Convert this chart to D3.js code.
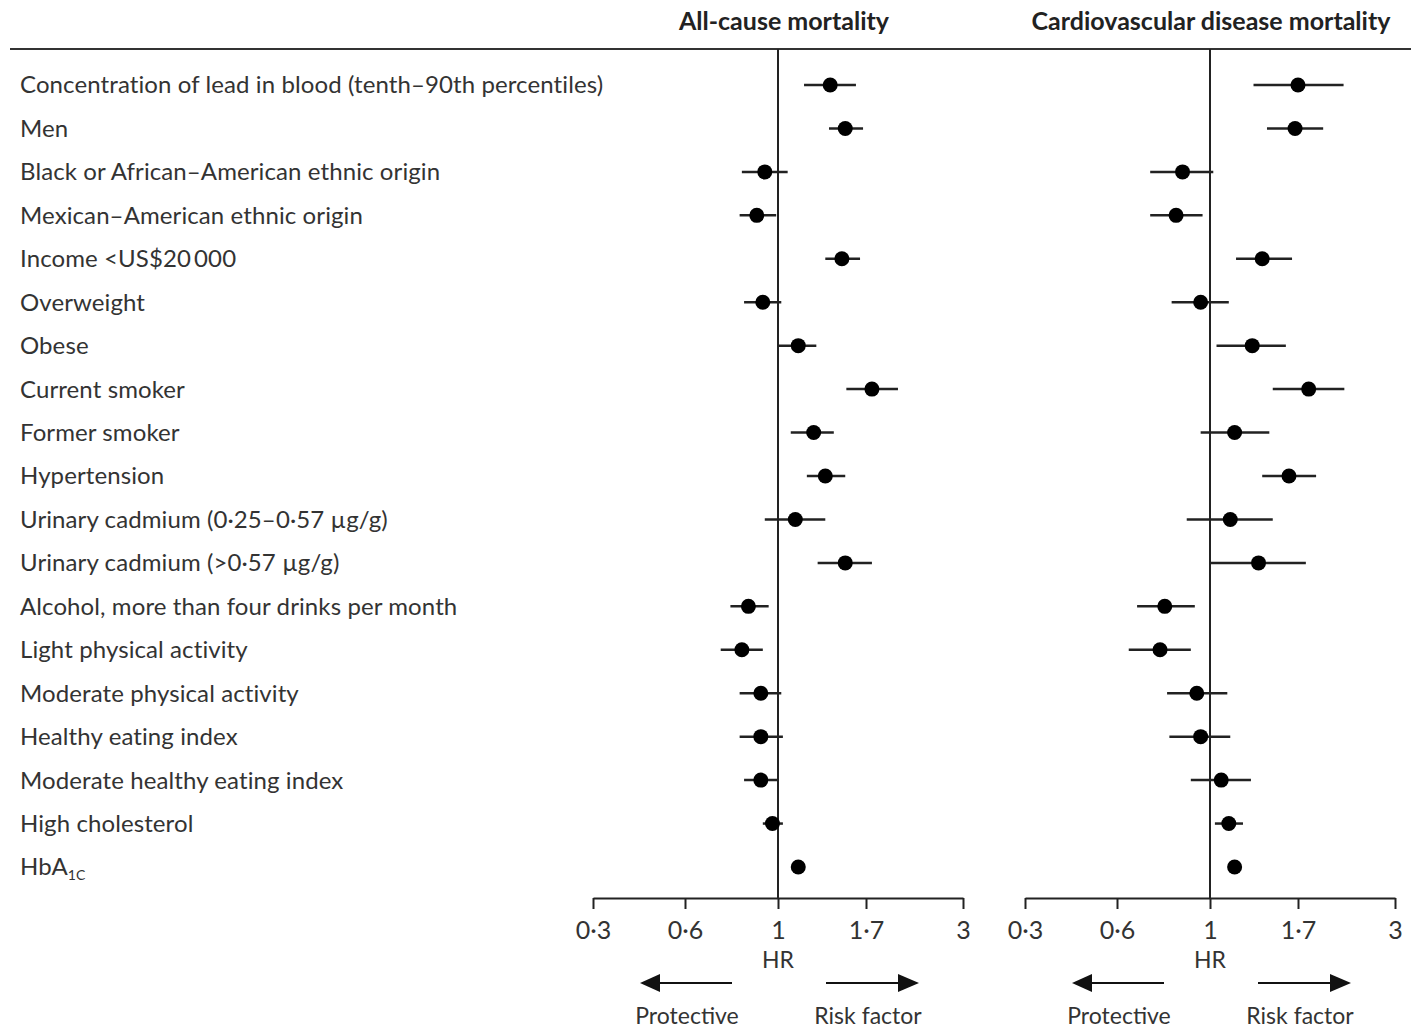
<!DOCTYPE html>
<meta charset="utf-8">
<script src="https://d3js.org/d3.v7.min.js"></script>
<style>
  body { margin: 0; background: #fff; }
  text { font-family: Lato, "Open Sans", sans-serif; fill: #333; }
</style>
<div id="chart"></div>
<script>
// row labels (top to bottom)
const factors = [
  "Concentration of lead in blood (tenth\u201390th percentiles)",
  "Men",
  "Black or African\u2013American ethnic origin",
  "Mexican\u2013American ethnic origin",
  "Income <US$20\u2009000",
  "Overweight",
  "Obese",
  "Current smoker",
  "Former smoker",
  "Hypertension",
  "Urinary cadmium (0\u00b725\u20130\u00b757 \u00b5g/g)",
  "Urinary cadmium (>0\u00b757 \u00b5g/g)",
  "Alcohol, more than four drinks per month",
  "Light physical activity",
  "Moderate physical activity",
  "Healthy eating index",
  "Moderate healthy eating index",
  "High cholesterol",
  "HbA1c"
];

// all-cause mortality: hazard ratio, lower and upper 95% CI
const allHR = [1.37, 1.50, 0.93, 0.89, 1.47, 0.92, 1.13, 1.76, 1.24, 1.33, 1.11, 1.50, 0.85, 0.82, 0.91, 0.91, 0.91, 0.97, 1.13];
const allLo = [1.17, 1.36, 0.82, 0.81, 1.33, 0.83, 1.00, 1.51, 1.08, 1.19, 0.93, 1.27, 0.77, 0.73, 0.81, 0.81, 0.83, 0.92, 1.12];
const allHi = [1.60, 1.67, 1.06, 0.99, 1.64, 1.02, 1.26, 2.05, 1.40, 1.50, 1.33, 1.76, 0.95, 0.92, 1.02, 1.03, 1.00, 1.03, 1.15];

// cardiovascular disease mortality
const cvdHR = [1.70, 1.67, 0.86, 0.83, 1.37, 0.95, 1.29, 1.81, 1.16, 1.61, 1.13, 1.34, 0.78, 0.76, 0.93, 0.95, 1.07, 1.12, 1.16];
const cvdLo = [1.30, 1.41, 0.72, 0.72, 1.17, 0.81, 1.04, 1.46, 0.95, 1.37, 0.88, 1.00, 0.67, 0.64, 0.79, 0.80, 0.90, 1.03, 1.14];
const cvdHi = [2.22, 1.97, 1.02, 0.96, 1.64, 1.12, 1.58, 2.23, 1.43, 1.89, 1.46, 1.78, 0.92, 0.90, 1.11, 1.13, 1.28, 1.22, 1.18];

const panelTitles = ["All-cause mortality", "Cardiovascular disease mortality"];
const tickValues = [0.3, 0.6, 1, 1.7, 3];
const tickLabels = ["0\u00b73", "0\u00b76", "1", "1\u00b77", "3"];

const W = 1411, H = 1029;
const svg = d3.select("#chart").append("svg")
  .attr("width", W).attr("height", H);

const topLine = 49, axisY = 898;

const y = d3.scalePoint()
  .domain(factors)
  .range([85, 867]);

// top rule
svg.append("line")
  .attr("x1", 10).attr("x2", W)
  .attr("y1", topLine).attr("y2", topLine)
  .attr("stroke", "#333").attr("stroke-width", 2);

// row labels
const labels = svg.append("g").selectAll("text")
  .data(factors)
  .enter().append("text")
  .attr("x", 20)
  .attr("y", d => y(d))
  .attr("dy", "0.35em")
  .style("font-size", "24px")
  .style("letter-spacing", "0.1px");

labels.each(function (d) {
  const t = d3.select(this);
  if (d === "HbA1c") {
    t.append("tspan").text("HbA");
    t.append("tspan").attr("dy", "0.3em").style("font-size", "14px").text("1C");
  } else {
    t.text(d);
  }
});

const panels = [
  { left: 593, title: panelTitles[0], hr: allHR, lo: allLo, hi: allHi, tdx: 6 },
  { left: 1025, title: panelTitles[1], hr: cvdHR, lo: cvdLo, hi: cvdHi, tdx: 1 }
];

// scale offsets inside a panel for the tick values (ticks are evenly placed)
const tickOffsets = [0, 92, 185, 273, 370];

panels.forEach(p => {
  const x = d3.scaleLog()
    .domain(tickValues)
    .range(tickOffsets.map(o => p.left + o));

  const g = svg.append("g");

  g.append("text")
    .attr("x", x(1) + p.tdx)
    .attr("y", 21)
    .attr("dy", "0.35em")
    .attr("text-anchor", "middle")
    .style("font-size", "25px")
    .style("font-weight", "bold")
    .style("fill", "#222")
    .text(p.title);

  // reference line at HR = 1
  g.append("line")
    .attr("x1", x(1)).attr("x2", x(1))
    .attr("y1", topLine).attr("y2", axisY)
    .attr("stroke", "#222").attr("stroke-width", 2);

  // x axis
  const ax = g.append("g")
    .attr("transform", "translate(0," + axisY + ")")
    .call(d3.axisBottom(x)
      .tickValues(tickValues)
      .tickFormat((d, i) => tickLabels[i])
      .tickSizeInner(11)
      .tickSizeOuter(0)
      .tickPadding(12));
  ax.select(".domain").attr("stroke", "#222").attr("stroke-width", 2);
  ax.selectAll(".tick line").attr("stroke", "#222").attr("stroke-width", 2);
  ax.selectAll(".tick text")
    .style("font-size", "25px")
    .style("font-family", "Lato, sans-serif")
    .attr("fill", "#333");

  g.append("text")
    .attr("x", x(1))
    .attr("y", 960)
    .attr("dy", "0.35em")
    .attr("text-anchor", "middle")
    .style("font-size", "23px")
    .text("HR");

  // arrows
  const ay = 983;
  g.append("line")
    .attr("x1", x(1) - 46).attr("x2", x(1) - 120)
    .attr("y1", ay).attr("y2", ay)
    .attr("stroke", "#111").attr("stroke-width", 2);
  g.append("path")
    .attr("d", d3.line()([[x(1) - 118, ay - 9], [x(1) - 138, ay], [x(1) - 118, ay + 9]]) + "Z")
    .attr("fill", "#111");
  g.append("line")
    .attr("x1", x(1) + 48).attr("x2", x(1) + 122)
    .attr("y1", ay).attr("y2", ay)
    .attr("stroke", "#111").attr("stroke-width", 2);
  g.append("path")
    .attr("d", d3.line()([[x(1) + 120, ay - 9], [x(1) + 141, ay], [x(1) + 120, ay + 9]]) + "Z")
    .attr("fill", "#111");

  g.append("text")
    .attr("x", x(0.6) + 2)
    .attr("y", 1016)
    .attr("dy", "0.35em")
    .attr("text-anchor", "middle")
    .style("font-size", "23px")
    .text("Protective");
  g.append("text")
    .attr("x", x(1.7) + 2)
    .attr("y", 1016)
    .attr("dy", "0.35em")
    .attr("text-anchor", "middle")
    .style("font-size", "23px")
    .text("Risk factor");

  // confidence intervals
  g.append("g").selectAll("line")
    .data(factors)
    .enter().append("line")
    .attr("x1", (d, i) => x(p.lo[i]))
    .attr("x2", (d, i) => x(p.hi[i]))
    .attr("y1", d => y(d))
    .attr("y2", d => y(d))
    .attr("stroke", "#222")
    .attr("stroke-width", 2.5);

  // point estimates
  g.append("g").selectAll("circle")
    .data(factors)
    .enter().append("circle")
    .attr("cx", (d, i) => x(p.hr[i]))
    .attr("cy", d => y(d))
    .attr("r", 7.5)
    .attr("fill", "#000");
});
</script>
